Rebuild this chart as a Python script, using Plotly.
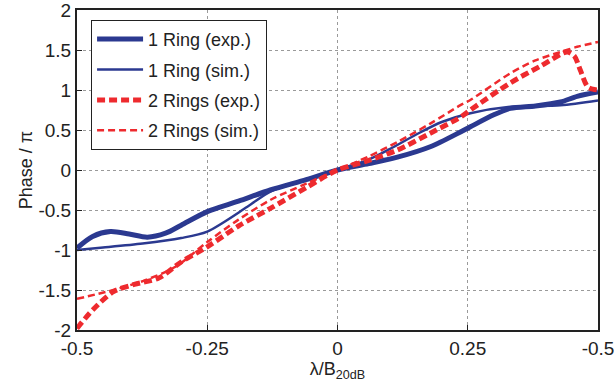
import plotly.graph_objects as go

# ---- data ----
x_1ring_exp = [-0.5, -0.47, -0.436, -0.40, -0.365, -0.33, -0.30, -0.25, -0.19, -0.129, -0.06, 0.0,
               0.06, 0.115, 0.178, 0.236, 0.255, 0.30, 0.332, 0.38, 0.428, 0.46, 0.5]
y_1ring_exp = [-0.975, -0.83, -0.77, -0.80, -0.84, -0.79, -0.69, -0.52, -0.39, -0.25, -0.12, 0.0,
               0.08, 0.16, 0.29, 0.475, 0.54, 0.69, 0.77, 0.80, 0.85, 0.92, 0.975]

x_1ring_sim = [-0.5, -0.45, -0.374, -0.30, -0.25, -0.173, -0.129, -0.06, 0.0,
               0.06, 0.10, 0.153, 0.20, 0.255, 0.332, 0.428, 0.5]
y_1ring_sim = [-1.0, -0.97, -0.92, -0.85, -0.77, -0.46, -0.27, -0.12, 0.0,
               0.13, 0.26, 0.45, 0.60, 0.71, 0.79, 0.81, 0.87]

x_2ring_exp = [-0.5, -0.47, -0.43, -0.39, -0.343, -0.30, -0.25, -0.19, -0.129, -0.06, 0.0,
               0.06, 0.115, 0.178, 0.236, 0.255, 0.332, 0.39, 0.441, 0.455, 0.466, 0.48, 0.49, 0.5]
y_2ring_exp = [-1.98, -1.75, -1.52, -1.43, -1.35, -1.15, -0.96, -0.70, -0.48, -0.22, 0.0,
               0.12, 0.25, 0.46, 0.66, 0.75, 1.09, 1.30, 1.475, 1.42, 1.25, 1.04, 1.01, 1.0]

x_2ring_sim = [-0.5, -0.43, -0.37, -0.311, -0.25, -0.19, -0.129, -0.06, 0.0,
               0.06, 0.115, 0.178, 0.236, 0.255, 0.332, 0.38, 0.428, 0.46, 0.5]
y_2ring_sim = [-1.61, -1.50, -1.38, -1.21, -0.90, -0.62, -0.375, -0.17, 0.0,
               0.17, 0.35, 0.58, 0.81, 0.875, 1.21, 1.37, 1.475, 1.54, 1.6]

x_tickvals = [-0.5, -0.25, 0, 0.25, 0.5]
x_ticktext = ["-0.5", "-0.25", "0", "0.25", "-0.5"]
y_tickvals = [-2, -1.5, -1, -0.5, 0, 0.5, 1, 1.5, 2]
y_ticktext = ["-2", "-1.5", "-1", "-0.5", "0", "0.5", "1", "1.5", "2"]

names = ["1 Ring (exp.)", "1 Ring (sim.)", "2 Rings (exp.)", "2 Rings (sim.)"]

BLUE = "#2B3990"
RED = "#EE2A2E"
FONT = "Liberation Sans, Arial, sans-serif"

fig = go.Figure()
series = [
    (x_1ring_exp, y_1ring_exp, BLUE, 5, "solid"),
    (x_1ring_sim, y_1ring_sim, BLUE, 2.5, "solid"),
    (x_2ring_exp, y_2ring_exp, RED, 5, "8px,4px"),
    (x_2ring_sim, y_2ring_sim, RED, 2.5, "7px,4px"),
]
for i, (xs, ys, c, w, d) in enumerate(series):
    fig.add_trace(go.Scatter(
        x=xs, y=ys, mode="lines", name=names[i], legendgroup=f"g{i}",
        line=dict(color=c, width=w, dash=d, shape="spline", smoothing=0.8),
    ))

axis_common = dict(
    showline=True, linecolor="#222", linewidth=2, mirror=True,
    ticks="inside", ticklen=5, tickcolor="#222", tickwidth=1,
    showgrid=True, gridcolor="#9a9a9a", gridwidth=1, griddash="dot",
    zeroline=False, automargin=False, ticklabeloverflow="allow",
    tickfont=dict(family=FONT, size=19, color="#222"),
)
fig.update_xaxes(range=[-0.5, 0.5], tickvals=x_tickvals, ticktext=x_ticktext,
                 title=dict(text="λ/B<sub>20dB</sub>", font=dict(family=FONT, size=18, color="#222"), standoff=0),
                 **axis_common)
fig.update_yaxes(range=[-2, 2], tickvals=y_tickvals, ticktext=y_ticktext,
                 title=dict(text="Phase / π", font=dict(family=FONT, size=18, color="#222"), standoff=1),
                 **axis_common)

fig.update_layout(
    width=614, height=392,
    margin=dict(l=77, r=16, t=10, b=62),
    paper_bgcolor="white", plot_bgcolor="white",
    showlegend=True,
    legend=dict(x=0.027, y=0.969, xanchor="left", yanchor="top",
                bgcolor="white", bordercolor="#222", borderwidth=1,
                font=dict(family=FONT, size=18, color="#222"),
                tracegroupgap=4, itemwidth=46),
)

fig.write_html("out.html")
